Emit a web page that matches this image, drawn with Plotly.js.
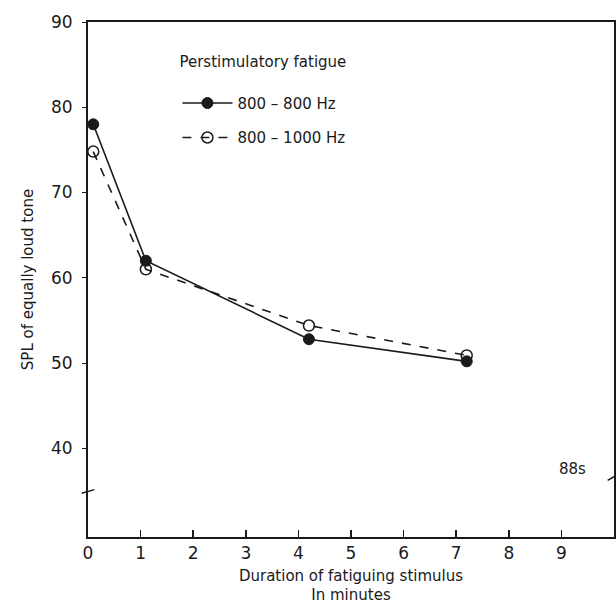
<!DOCTYPE html>
<html><head><meta charset="utf-8">
<script src="https://cdn.plot.ly/plotly-3.0.1.min.js"></script>
<style>html,body{margin:0;padding:0;background:#fff}</style>
</head><body>
<div id="chart" style="width:616px;height:615px"></div>
<script>
const durations = [0.1, 1.1, 4.2, 7.2];
const spl_800_800 = [78, 62, 52.8, 50.2];
const spl_800_1000 = [74.8, 61, 54.4, 50.9];
const xTicks = [0,1,2,3,4,5,6,7,8,9];
const yTicks = [40,50,60,70,80,90];

const font = 'DejaVu Sans, sans-serif';
const ink = '#1a1a1a';

const traces = [
  {x: durations, y: spl_800_800, name: '800 – 800 Hz', mode: 'lines+markers', legendgroup: 'a',
   line: {color: ink, width: 1.6, dash: 'solid'},
   marker: {symbol: 'circle', size: 11, color: ink, line: {color: ink, width: 1}}},
  {x: durations, y: spl_800_1000, name: '800 – 1000 Hz', mode: 'lines+markers', legendgroup: 'b',
   line: {color: ink, width: 1.6, dash: 'dash'},
   marker: {symbol: 'circle-open', size: 11, color: ink, line: {color: ink, width: 1.5}}}
];

const layout = {
  width: 616, height: 615,
  margin: {l: 88, r: 2, t: 22, b: 78},
  paper_bgcolor: '#fff', plot_bgcolor: '#fff',
  font: {family: font, color: ink, size: 15},
  showlegend: true,
  legend: {x: 0.17, y: 0.95, xanchor: 'left', yanchor: 'top', bgcolor: 'rgba(0,0,0,0)',
    traceorder: 'grouped',
    title: {text: 'Perstimulatory fatigue<br> ', font: {size: 15, family: font}},
    font: {size: 15, family: font}, itemwidth: 50, tracegroupgap: 12},
  xaxis: {range: [0, 10], tickvals: xTicks, ticktext: xTicks.map(String),
    showline: true, linecolor: ink, linewidth: 2, mirror: true,
    ticks: 'inside', ticklen: 7, tickcolor: ink, tickwidth: 1.5,
    showgrid: false, zeroline: false, tickfont: {size: 17},
    title: {text: 'Duration of fatiguing stimulus<br>In minutes', font: {size: 15}, standoff: 8}},
  yaxis: {range: [29.6, 90], tickvals: yTicks, ticktext: yTicks.map(String),
    showline: true, linecolor: ink, linewidth: 2, mirror: true,
    ticks: 'outside', ticklen: 4, tickcolor: ink, tickwidth: 1,
    ticklabelstandoff: 6,
    showgrid: false, zeroline: false, tickfont: {size: 17},
    title: {text: 'SPL of equally loud tone', font: {size: 15}, standoff: 14}},
  annotations: [
    {xref: 'paper', yref: 'paper', x: 0.95, y: 0.11, text: '88s', showarrow: false,
     xanchor: 'right', font: {size: 15, family: font}}
  ],
  shapes: [
    {type: 'line', xref: 'paper', yref: 'paper', x0: -0.012, x1: 0.012, y0: 0.085, y1: 0.092, line: {color: ink, width: 1.5}},
    {type: 'line', xref: 'paper', yref: 'paper', x0: 0.988, x1: 1.0, y0: 0.11, y1: 0.117, line: {color: ink, width: 1.5}}
  ]
};
Plotly.newPlot('chart', traces, layout, {displayModeBar: false, staticPlot: true});
</script>
</body></html>
